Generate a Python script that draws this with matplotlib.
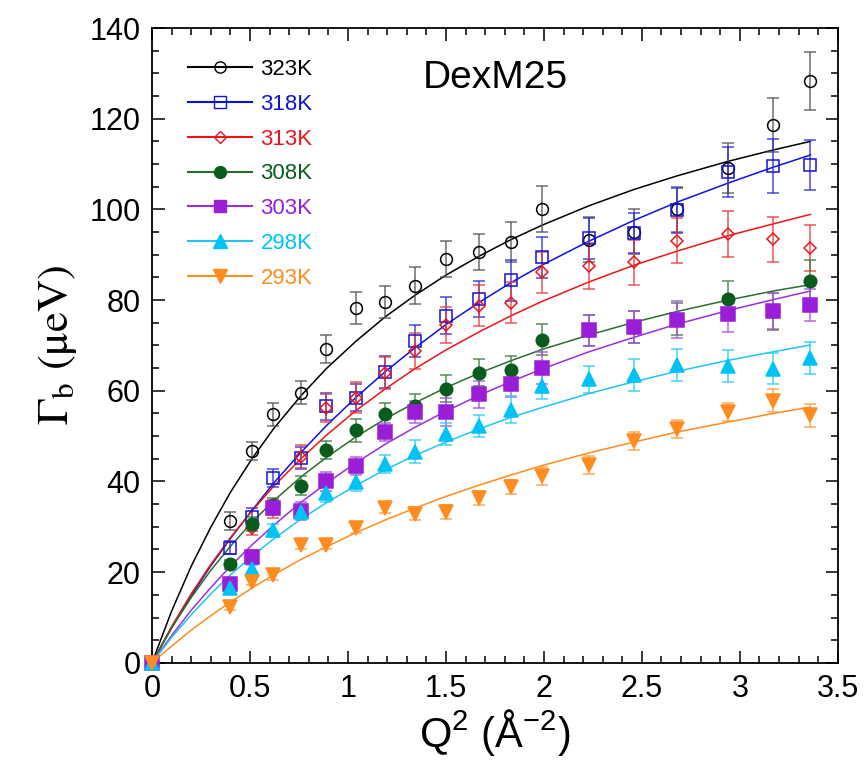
import matplotlib.pyplot as plt
from matplotlib.ticker import MultipleLocator

plt.rcParams['font.family'] = ['Liberation Sans', 'DejaVu Sans']
plt.rcParams['mathtext.fontset'] = 'custom'
plt.rcParams['mathtext.rm'] = 'Liberation Sans'
plt.rcParams['mathtext.it'] = 'Liberation Sans:italic'

# Q^2 (1/A^2)
q2 = [0, 0.40, 0.51, 0.62, 0.76, 0.89, 1.04, 1.19, 1.34, 1.50, 1.67,
      1.83, 1.99, 2.23, 2.46, 2.68, 2.94, 3.17, 3.36]

labels = ['323K', '318K', '313K', '308K', '303K', '298K', '293K']

# Messwerte (Gamma_b in ueV)
g323 = [0, 31.2, 46.8, 54.8, 59.6, 69.2, 78.3, 79.5, 83.2, 89.1, 90.6,
        92.8, 100.1, 93.3, 95.1, 100.0, 109.1, 118.6, 128.3]
g318 = [0, 25.4, 32.2, 40.7, 45.2, 56.6, 58.5, 64.1, 71.0, 76.6, 80.3,
        84.4, 89.4, 93.6, 94.8, 99.8, 108.2, 109.6, 109.8]
g313 = [0, 17.0, 29.8, 34.0, 45.5, 56.2, 58.5, 64.0, 68.8, 74.5, 78.8,
        79.4, 86.1, 87.5, 88.3, 93.1, 94.6, 93.4, 91.5]
g308 = [0, 21.7, 30.6, 34.8, 39.1, 46.9, 51.3, 54.8, 56.7, 60.5, 64.0,
        64.6, 71.3, 73.3, 74.0, 75.8, 80.2, 77.5, 84.3]
g303 = [0, 17.5, 23.3, 34.1, 33.4, 40.0, 43.5, 51.0, 55.3, 55.3, 59.2,
        61.6, 65.0, 73.3, 74.0, 75.7, 77.0, 77.6, 78.9]
g298 = [0, 16.6, 20.6, 29.2, 33.3, 37.4, 39.9, 43.9, 46.6, 50.5, 52.2,
        55.8, 61.1, 62.5, 63.5, 65.7, 65.5, 64.9, 67.2]
g293 = [0, 12.3, 17.8, 19.3, 26.1, 26.1, 29.7, 34.1, 32.9, 33.3, 36.3,
        38.8, 41.3, 43.6, 49.0, 51.6, 55.3, 57.8, 54.6]

# Fehlerbalken
e323 = [0, 2, 2, 2.5, 2.5, 3, 3.5, 3.5, 4, 4, 4, 4.5, 5, 5, 5, 5, 5.5, 6, 6.4]
e318 = [0, 1.5, 2, 2, 2.5, 3, 3, 3.5, 3.5, 4, 4, 4.5, 4.5, 4.5, 4.5, 5, 5.5, 6, 5.5]
e313 = [0, 1.5, 1.5, 2, 2.5, 3, 3.5, 3.5, 4, 4, 4.5, 4.5, 4.5, 5, 5, 5, 5, 5, 5]
e308 = [0, 1, 1.5, 1.5, 2, 2, 2.5, 2.5, 2.5, 3, 3, 3, 3.5, 3.5, 3.5, 3.5, 4, 4, 4.5]
e303 = [0, 1, 1.5, 1.5, 2, 2, 2, 2, 2.5, 3, 3, 3, 3.5, 3.5, 3.5, 4, 4, 4, 3.5]
e298 = [0, 1, 1, 1.5, 1.5, 2, 2, 2, 2.5, 2.5, 2.5, 3, 3, 3, 3.5, 3.5, 3.5, 3.5, 3.5]
e293 = [0, 0.7, 0.7, 1, 1, 1, 1, 1, 1.5, 1.5, 1.5, 1.5, 2, 2, 2, 2, 2, 2.5, 2.5]

# Fitkurven (eigenes Q^2-Raster, dichter bei kleinen Q)
qfit = [0, 0.1, 0.2, 0.3, 0.40, 0.51, 0.62, 0.76, 0.89, 1.04, 1.19, 1.34,
        1.50, 1.67, 1.83, 1.99, 2.23, 2.46, 2.68, 2.94, 3.17, 3.36]
f323 = [0, 11.4, 21.3, 29.9, 37.6, 45.0, 51.6, 58.9, 64.9, 70.9, 76.3, 81.0,
        85.5, 89.7, 93.3, 96.5, 100.8, 104.4, 107.4, 110.6, 113.1, 115.0]
f318 = [0, 7.7, 14.8, 21.4, 27.4, 33.6, 39.6, 46.4, 52.3, 58.5, 64.2, 69.4,
        74.6, 79.5, 83.8, 87.7, 93.0, 97.6, 101.6, 105.8, 109.3, 112.0]
f313 = [0, 8.0, 15.2, 21.7, 27.6, 33.5, 38.9, 45.0, 50.2, 55.6, 60.4, 64.8,
        69.0, 73.0, 76.5, 79.7, 84.0, 87.7, 90.8, 94.2, 96.8, 98.9]
f308 = [0, 7.7, 14.4, 20.4, 25.7, 31.0, 35.7, 41.0, 45.3, 49.8, 53.8, 57.3,
        60.7, 63.9, 66.6, 69.1, 72.3, 75.1, 77.5, 80.0, 82.0, 83.4]
f303 = [0, 6.0, 11.6, 16.6, 21.3, 26.0, 30.3, 35.4, 39.6, 44.1, 48.2, 51.9,
        55.5, 59.0, 62.0, 64.8, 68.6, 71.8, 74.7, 77.7, 80.1, 82.0]
f298 = [0, 5.6, 10.6, 15.2, 19.4, 23.5, 27.3, 31.7, 35.3, 39.1, 42.6, 45.7,
        48.7, 51.6, 54.1, 56.3, 59.4, 62.0, 64.3, 66.7, 68.6, 70.1]
f293 = [0, 3.7, 7.2, 10.4, 13.4, 16.5, 19.4, 22.8, 25.6, 28.7, 31.5, 34.1,
        36.7, 39.2, 41.4, 43.5, 46.3, 48.7, 50.9, 53.1, 55.0, 56.4]

daten = [g323, g318, g313, g308, g303, g298, g293]
fehler = [e323, e318, e313, e308, e303, e298, e293]
fits = [f323, f318, f313, f308, f303, f298, f293]

farben = ['#000000', '#1212d6', '#e8161c', '#0a5c1c', '#9a1ed8', '#00c2f5', '#ff8c1f']
linien = ['#000000', '#1010e0', '#ee1515', '#2a6e2f', '#9a2ee0', '#20c4f5', '#ff8c1f']
efarben = ['#555555', '#2a2ad6', '#e83a3a', '#3a7a44', '#a64ee0', '#2ccaf5', '#ff9c3f']
marker = ['o', 's', 'D', 'o', 's', '^', 'v']
gefuellt = [False, False, False, True, True, True, True]
msize = [8.5, 9, 6.5, 9, 9.5, 10, 10]

fig = plt.figure(figsize=(8.66, 7.78), dpi=100)
ax = fig.add_axes([0.1755, 0.148, 0.792, 0.816])

handles = []
for i in range(7):
    c = farben[i]
    ax.plot(qfit, fits[i], color=linien[i], lw=1.1, zorder=2 + i * 0.1)
    ax.errorbar(q2, daten[i], yerr=fehler[i], fmt='none', ecolor=efarben[i],
                elinewidth=1.1, capsize=4, capthick=1.1, alpha=0.85,
                zorder=3 + i * 0.1)
    fc = c if gefuellt[i] else 'none'
    ax.plot(q2, daten[i], linestyle='none', marker=marker[i], ms=msize[i],
            mfc=fc, mec=c, mew=1.1, clip_on=False, zorder=4 + i * 0.1)
    h, = ax.plot([], [], color=linien[i], lw=1.5, marker=marker[i],
                 ms=msize[i] * 0.95, mfc=fc, mec=c, mew=1.0)
    handles.append(h)

leg = ax.legend(handles, labels, loc='upper left',
                bbox_to_anchor=(0.0525, 0.951), frameon=False, fontsize=16,
                handlelength=2.9, handletextpad=0.36, labelspacing=0.62,
                borderaxespad=0, borderpad=0)
for t, c in zip(leg.get_texts(), farben):
    t.set_color(c)

ax.text(0.5, 0.922, 'DexM25', transform=ax.transAxes, fontsize=28,
        ha='center', va='center')

ax.set_xlim(0, 3.5)
ax.set_ylim(0, 140)
ax.xaxis.set_major_locator(MultipleLocator(0.5))
ax.xaxis.set_minor_locator(MultipleLocator(0.1))
ax.yaxis.set_major_locator(MultipleLocator(20))
ax.yaxis.set_minor_locator(MultipleLocator(5))
ax.set_xticks([0, 0.5, 1, 1.5, 2, 2.5, 3, 3.5])
ax.set_xticklabels(['0', '0.5', '1', '1.5', '2', '2.5', '3', '3.5'])
ax.tick_params(which='both', direction='in', top=True, right=True,
               labelsize=22, width=1.1, pad=8)
ax.tick_params(which='major', length=9)
ax.tick_params(which='minor', length=5)
for s in ax.spines.values():
    s.set_linewidth(1.3)

ax.set_xlabel(r'Q$^2$ (Å$^{-2}$)', fontsize=30, labelpad=2)
ax.set_ylabel(r'$\Gamma_\mathrm{b}\ (\mathrm{μeV})$', fontsize=32,
              math_fontfamily='stix', labelpad=8)

plt.savefig('out.png', dpi=100)
